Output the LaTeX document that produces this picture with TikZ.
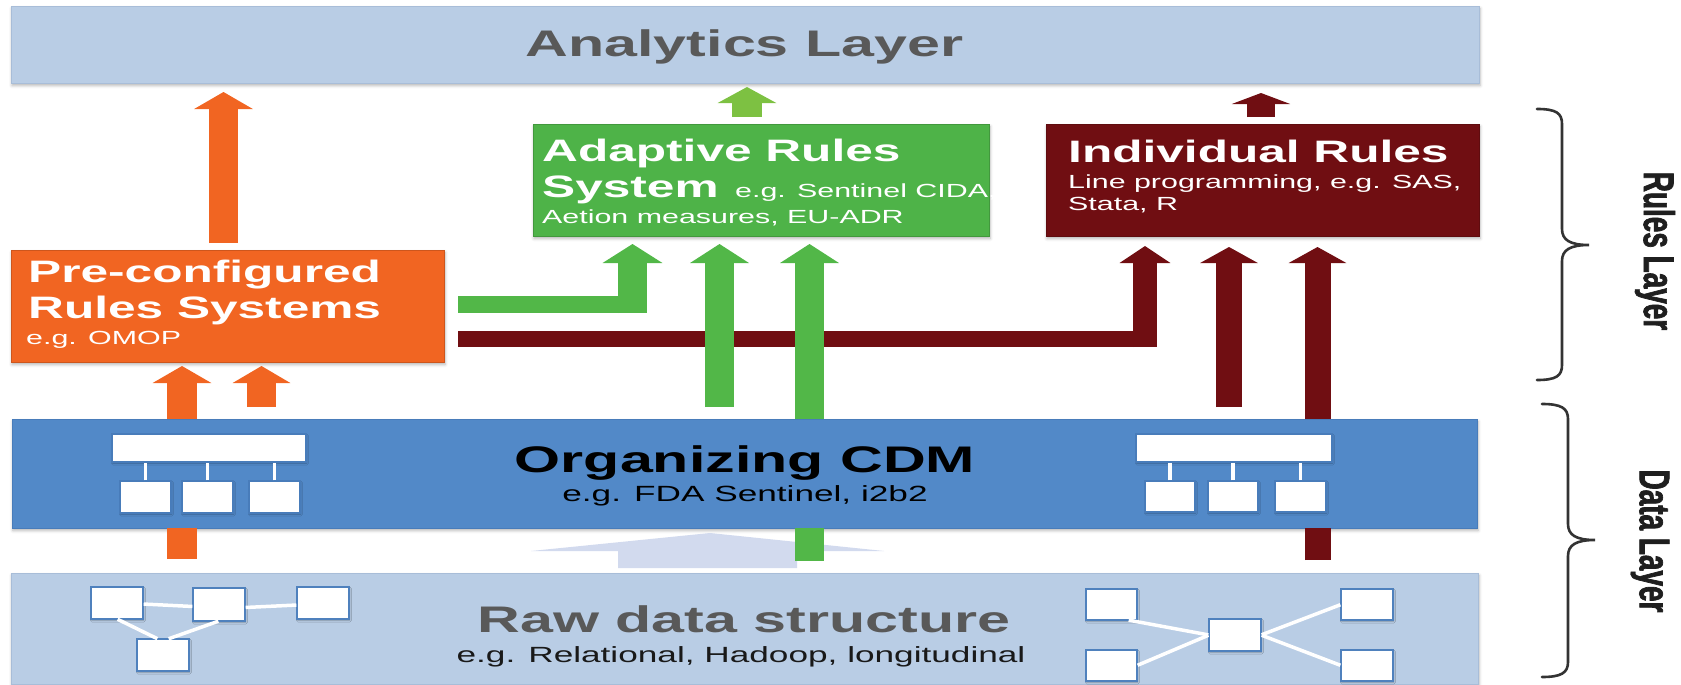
\documentclass[tikz,border=0pt]{standalone}
\usepackage{fontspec}
\setmainfont{Liberation Sans}
\newfontfamily\widefont[FakeStretch=1.6]{Liberation Sans}
\newfontfamily\tallfont[FakeStretch=0.65,FakeBold=1.6]{Liberation Sans}
\usetikzlibrary{arrows.meta,shadows.blur,calc}

\definecolor{paleblue}{RGB}{185,205,229}
\definecolor{paleedge}{RGB}{168,189,216}
\definecolor{cdmblue}{RGB}{82,137,200}
\definecolor{cdmedge}{RGB}{72,124,186}
\definecolor{orng}{RGB}{241,101,34}
\definecolor{grnbox}{RGB}{78,179,72}
\definecolor{grnarr}{RGB}{82,183,72}
\definecolor{grntop}{RGB}{125,193,66}
\definecolor{darkred}{RGB}{112,14,18}
\definecolor{lav}{RGB}{210,218,238}
\definecolor{txtgray}{RGB}{89,89,89}
\definecolor{iconblue}{RGB}{79,129,189}

\begin{document}
\begin{tikzpicture}[x=1pt,y=-1pt,
  panel/.style={rectangle, anchor=north west, inner sep=0pt, outer sep=0pt, line width=0.8pt,
    blur shadow={shadow xshift=1pt, shadow yshift=-2.5pt, shadow blur radius=3pt, shadow opacity=30}},
  icon/.style={rectangle, anchor=north west, inner sep=0pt, outer sep=0pt, fill=white,
    draw=iconblue, line width=1.4pt,
    blur shadow={shadow xshift=0.8pt, shadow yshift=-1.5pt, shadow blur radius=1.5pt, shadow opacity=30}},
  link/.style={draw=white, line width=3.5pt, shorten <=0.7pt, shorten >=0.7pt},
  title/.style={anchor=base west, inner sep=0pt, text=white,
    font=\widefont\bfseries\fontsize{31}{31}\selectfont},
  note/.style={anchor=base west, inner sep=0pt, text=white,
    font=\widefont\fontsize{19}{19}\selectfont},
  bigtitle/.style={anchor=base, inner sep=0pt,
    font=\widefont\bfseries\fontsize{37}{37}\selectfont},
  subnote/.style={anchor=base, inner sep=0pt,
    font=\widefont\fontsize{22}{22}\selectfont},
  side/.style={rotate=-90, inner sep=0pt, text=black!88,
    font=\tallfont\bfseries\fontsize{43}{43}\selectfont},
  blk/.style n args={4}{draw=#1, line width=#2, -{Triangle[length=#3, width=#4]}},
  flowbar/.style n args={2}{draw=#1, line width=#2},
  bracket/.style={draw=black!80, line width=2.6pt, line cap=round}
]
\useasboundingbox (0,0) rectangle (1681,685);

% ---------- layer panels ----------
\node[panel, fill=paleblue, draw=paleedge, minimum width=1468pt, minimum height=77pt] (ana) at (11,6) {};
\node[panel, fill=orng, draw=orng!85!black, minimum width=433pt, minimum height=112pt] (pre) at (11,250) {};
\node[panel, fill=grnbox, draw=grnbox!85!black, minimum width=456pt, minimum height=112pt] (grn) at (533,124) {};
\node[panel, fill=darkred, draw=darkred!85!black, minimum width=433pt, minimum height=112pt] (red) at (1046,124) {};
\node[panel, fill=cdmblue, draw=cdmedge, minimum width=1465pt, minimum height=109pt] (cdm) at (12,419) {};
\node[panel, fill=paleblue, draw=paleedge, minimum width=1467pt, minimum height=111pt] (raw) at (11,573) {};

% ---------- panel texts ----------
\node[bigtitle, text=txtgray] (anatxt) at (744.5,57) {Analytics Layer};

\node[title] (pre1) at (28,282) {Pre-configured};
\node[title] (pre2) at (28,318) {Rules Systems};
\node[note]  (pre3) at (26,344) {e.g. OMOP};

\node[title] (grn1) at (542,161) {Adaptive Rules};
\node[title] (grn2) at (542,197) {System};
\node[note]  (grn3) at (735,197) {e.g. Sentinel CIDA,};
\node[note]  (grn4) at (542,223) {Aetion measures, EU-ADR};

\node[title] (red1) at (1068,162) {Individual Rules};
\node[note]  (red2) at (1068,188) {Line programming, e.g. SAS,};
\node[note]  (red3) at (1068,210) {Stata, R};

\node[bigtitle, text=black] (cdm1) at (745,472) {Organizing CDM};
\node[subnote, text=black] (cdm2) at (745,501) {e.g. FDA Sentinel, i2b2};

\node[bigtitle, text=txtgray] (raw1) at (744,632) {Raw data structure};
\node[subnote, text=black!90] (raw2) at (741,662) {e.g. Relational, Hadoop, longitudinal};

% ---------- arrow columns ----------
\coordinate (xo0) at (223.5,0);
\coordinate (xo1) at (182,0);
\coordinate (xo2) at (261.5,0);
\coordinate (xg0) at (747,0);
\coordinate (xg2) at (719.5,0);
\coordinate (xg3) at (809.5,0);
\coordinate (xr0) at (1261,0);
\coordinate (xr2) at (1229,0);
\coordinate (xr3) at (1317.5,0);
\coordinate (gbend) at (632.5,304.5);
\coordinate (rbend) at (1145,339);

% dark red flows into the individual rules (the long ones pass behind the CDM panel)
\draw[flowbar={darkred}{16pt}] ($(pre.east |- rbend)+(14,0)$) -- ($(rbend)+(12,0)$);
\draw[blk={darkred}{24pt}{17pt}{50pt}] ($(rbend)+(0,8)$) -- ([yshift=-10pt]rbend |- red.south);
\draw[blk={darkred}{26pt}{16pt}{57pt}] ([yshift=12pt]xr2 |- cdm.north) -- ([yshift=-11pt]xr2 |- red.south);
\draw[flowbar={darkred}{26pt}] ([yshift=-32pt]xr3 |- cdm.south) -- (xr3 |- cdm.south);
\draw[blk={darkred}{26pt}{16pt}{57pt}] (xr3 |- cdm.north) -- ([yshift=-11pt]xr3 |- red.south);
\draw[blk={darkred}{28pt}{11pt}{58pt}] ([yshift=7pt]xr0 |- red.north) -- ([yshift=-10pt]xr0 |- ana.south);

% raw data lifted into the CDM
\fill[lav] (618,568) -- (618,551) -- (531,551) -- (710,533) -- (884,551) -- (797,551) -- (797,568) -- cycle;

% green flows into the adaptive rules system
\draw[flowbar={grnarr}{17pt}] ($(pre.east |- gbend)+(14,0)$) -- ($(gbend)+(14.5,0)$);
\draw[blk={grnarr}{29pt}{19pt}{59pt}] ($(gbend)+(0,8.5)$) -- ([yshift=-8pt]gbend |- grn.south);
\draw[blk={grnarr}{29pt}{19pt}{58pt}] ([yshift=12pt]xg2 |- cdm.north) -- ([yshift=-8pt]xg2 |- grn.south);
\draw[flowbar={grnarr}{29pt}] ([yshift=-33pt]xg3 |- cdm.south) -- (xg3 |- cdm.south);
\draw[blk={grnarr}{29pt}{19pt}{58pt}] (xg3 |- cdm.north) -- ([yshift=-8pt]xg3 |- grn.south);
\draw[blk={grntop}{30pt}{16pt}{58pt}] ([yshift=7pt]xg0 |- grn.north) -- ([yshift=-4pt]xg0 |- ana.south);

% orange flows through the pre-configured systems
\draw[flowbar={orng}{30pt}] ([yshift=-31pt]xo1 |- cdm.south) -- (xo1 |- cdm.south);
\draw[blk={orng}{30pt}{17pt}{58pt}] (xo1 |- cdm.north) -- ([yshift=-4pt]xo1 |- pre.south);
\draw[blk={orng}{29pt}{17pt}{57pt}] ([yshift=12pt]xo2 |- cdm.north) -- ([yshift=-4pt]xo2 |- pre.south);
\draw[blk={orng}{29pt}{17pt}{58pt}] ([yshift=7pt]xo0 |- pre.north) -- ([yshift=-9pt]xo0 |- ana.south);

% ---------- data model icons ----------
% CDM, left tree
\node[icon, draw=cdmedge, minimum width=194pt, minimum height=28pt] (cl0) at (112,434) {};
\node[icon, draw=cdmedge, minimum width=51pt, minimum height=32pt] (cl1) at (120,481) {};
\node[icon, draw=cdmedge, minimum width=51pt, minimum height=32pt] (cl2) at (182,481) {};
\node[icon, draw=cdmedge, minimum width=51pt, minimum height=32pt] (cl3) at (249,481) {};
% CDM, right tree
\node[icon, draw=cdmedge, minimum width=196pt, minimum height=28pt] (cr0) at (1136,434) {};
\node[icon, draw=cdmedge, minimum width=50pt, minimum height=31pt] (cr1) at (1145,481) {};
\node[icon, draw=cdmedge, minimum width=50pt, minimum height=31pt] (cr2) at (1208,481) {};
\node[icon, draw=cdmedge, minimum width=51pt, minimum height=31pt] (cr3) at (1275,481) {};
% raw data, relational sketch
\node[icon, minimum width=52pt, minimum height=32pt] (ra) at (91,587) {};
\node[icon, minimum width=52pt, minimum height=33pt] (rb) at (193,588) {};
\node[icon, minimum width=52pt, minimum height=32pt] (rc) at (297,587) {};
\node[icon, minimum width=52pt, minimum height=32pt] (rd) at (137,639) {};
% raw data, star sketch
\node[icon, minimum width=51pt, minimum height=31pt] (stl) at (1086,589) {};
\node[icon, minimum width=51pt, minimum height=31pt] (sbl) at (1086,650) {};
\node[icon, minimum width=52pt, minimum height=32pt] (sc) at (1209,619) {};
\node[icon, minimum width=52pt, minimum height=31pt] (str) at (1341,589) {};
\node[icon, minimum width=52pt, minimum height=31pt] (sbr) at (1341,650) {};

\draw[link] (cl1.north) -- (cl1.north |- cl0.south);
\draw[link] (cl2.north) -- (cl2.north |- cl0.south);
\draw[link] (cl3.north) -- (cl3.north |- cl0.south);
\draw[link] (cr1.north) -- (cr1.north |- cr0.south);
\draw[link] (cr2.north) -- (cr2.north |- cr0.south);
\draw[link] (cr3.north) -- (cr3.north |- cr0.south);
\draw[link] ([yshift=-1pt]ra.east) -- ([yshift=-2pt]rb.west);
\draw[link] ([yshift=-3pt]rb.east) -- ([yshift=-2pt]rc.west);
\draw[link] (ra.south) -- ([xshift=-5pt]rd.north);
\draw[link] (rb.south) -- ([xshift=5pt]rd.north);
\draw[link] ([xshift=-9pt]stl.south east) -- (sc.west);
\draw[link] (sbl.east) -- (sc.west);
\draw[link] (sc.east) -- (str.west);
\draw[link] (sc.east) -- (sbr.west);

% ---------- layer braces ----------
\draw[bracket] (1537,109) .. controls (1556,109) and (1562,113) .. (1562,124)
  -- (1562,229) .. controls (1562,240) and (1570,245) .. (1589,245)
  .. controls (1570,245) and (1562,250) .. (1562,261)
  -- (1562,365) .. controls (1562,376) and (1556,380) .. (1537,380);
\draw[bracket] (1542,404) .. controls (1561,404) and (1568,408) .. (1568,419)
  -- (1568,524) .. controls (1568,535) and (1576,540) .. (1595,540)
  .. controls (1576,540) and (1568,545) .. (1568,556)
  -- (1568,662) .. controls (1568,673) and (1561,677) .. (1542,677);
\node[side] (ruleslbl) at (1655,251) {Rules Layer};
\node[side] (datalbl) at (1650,541) {Data Layer};
\end{tikzpicture}
\end{document}
